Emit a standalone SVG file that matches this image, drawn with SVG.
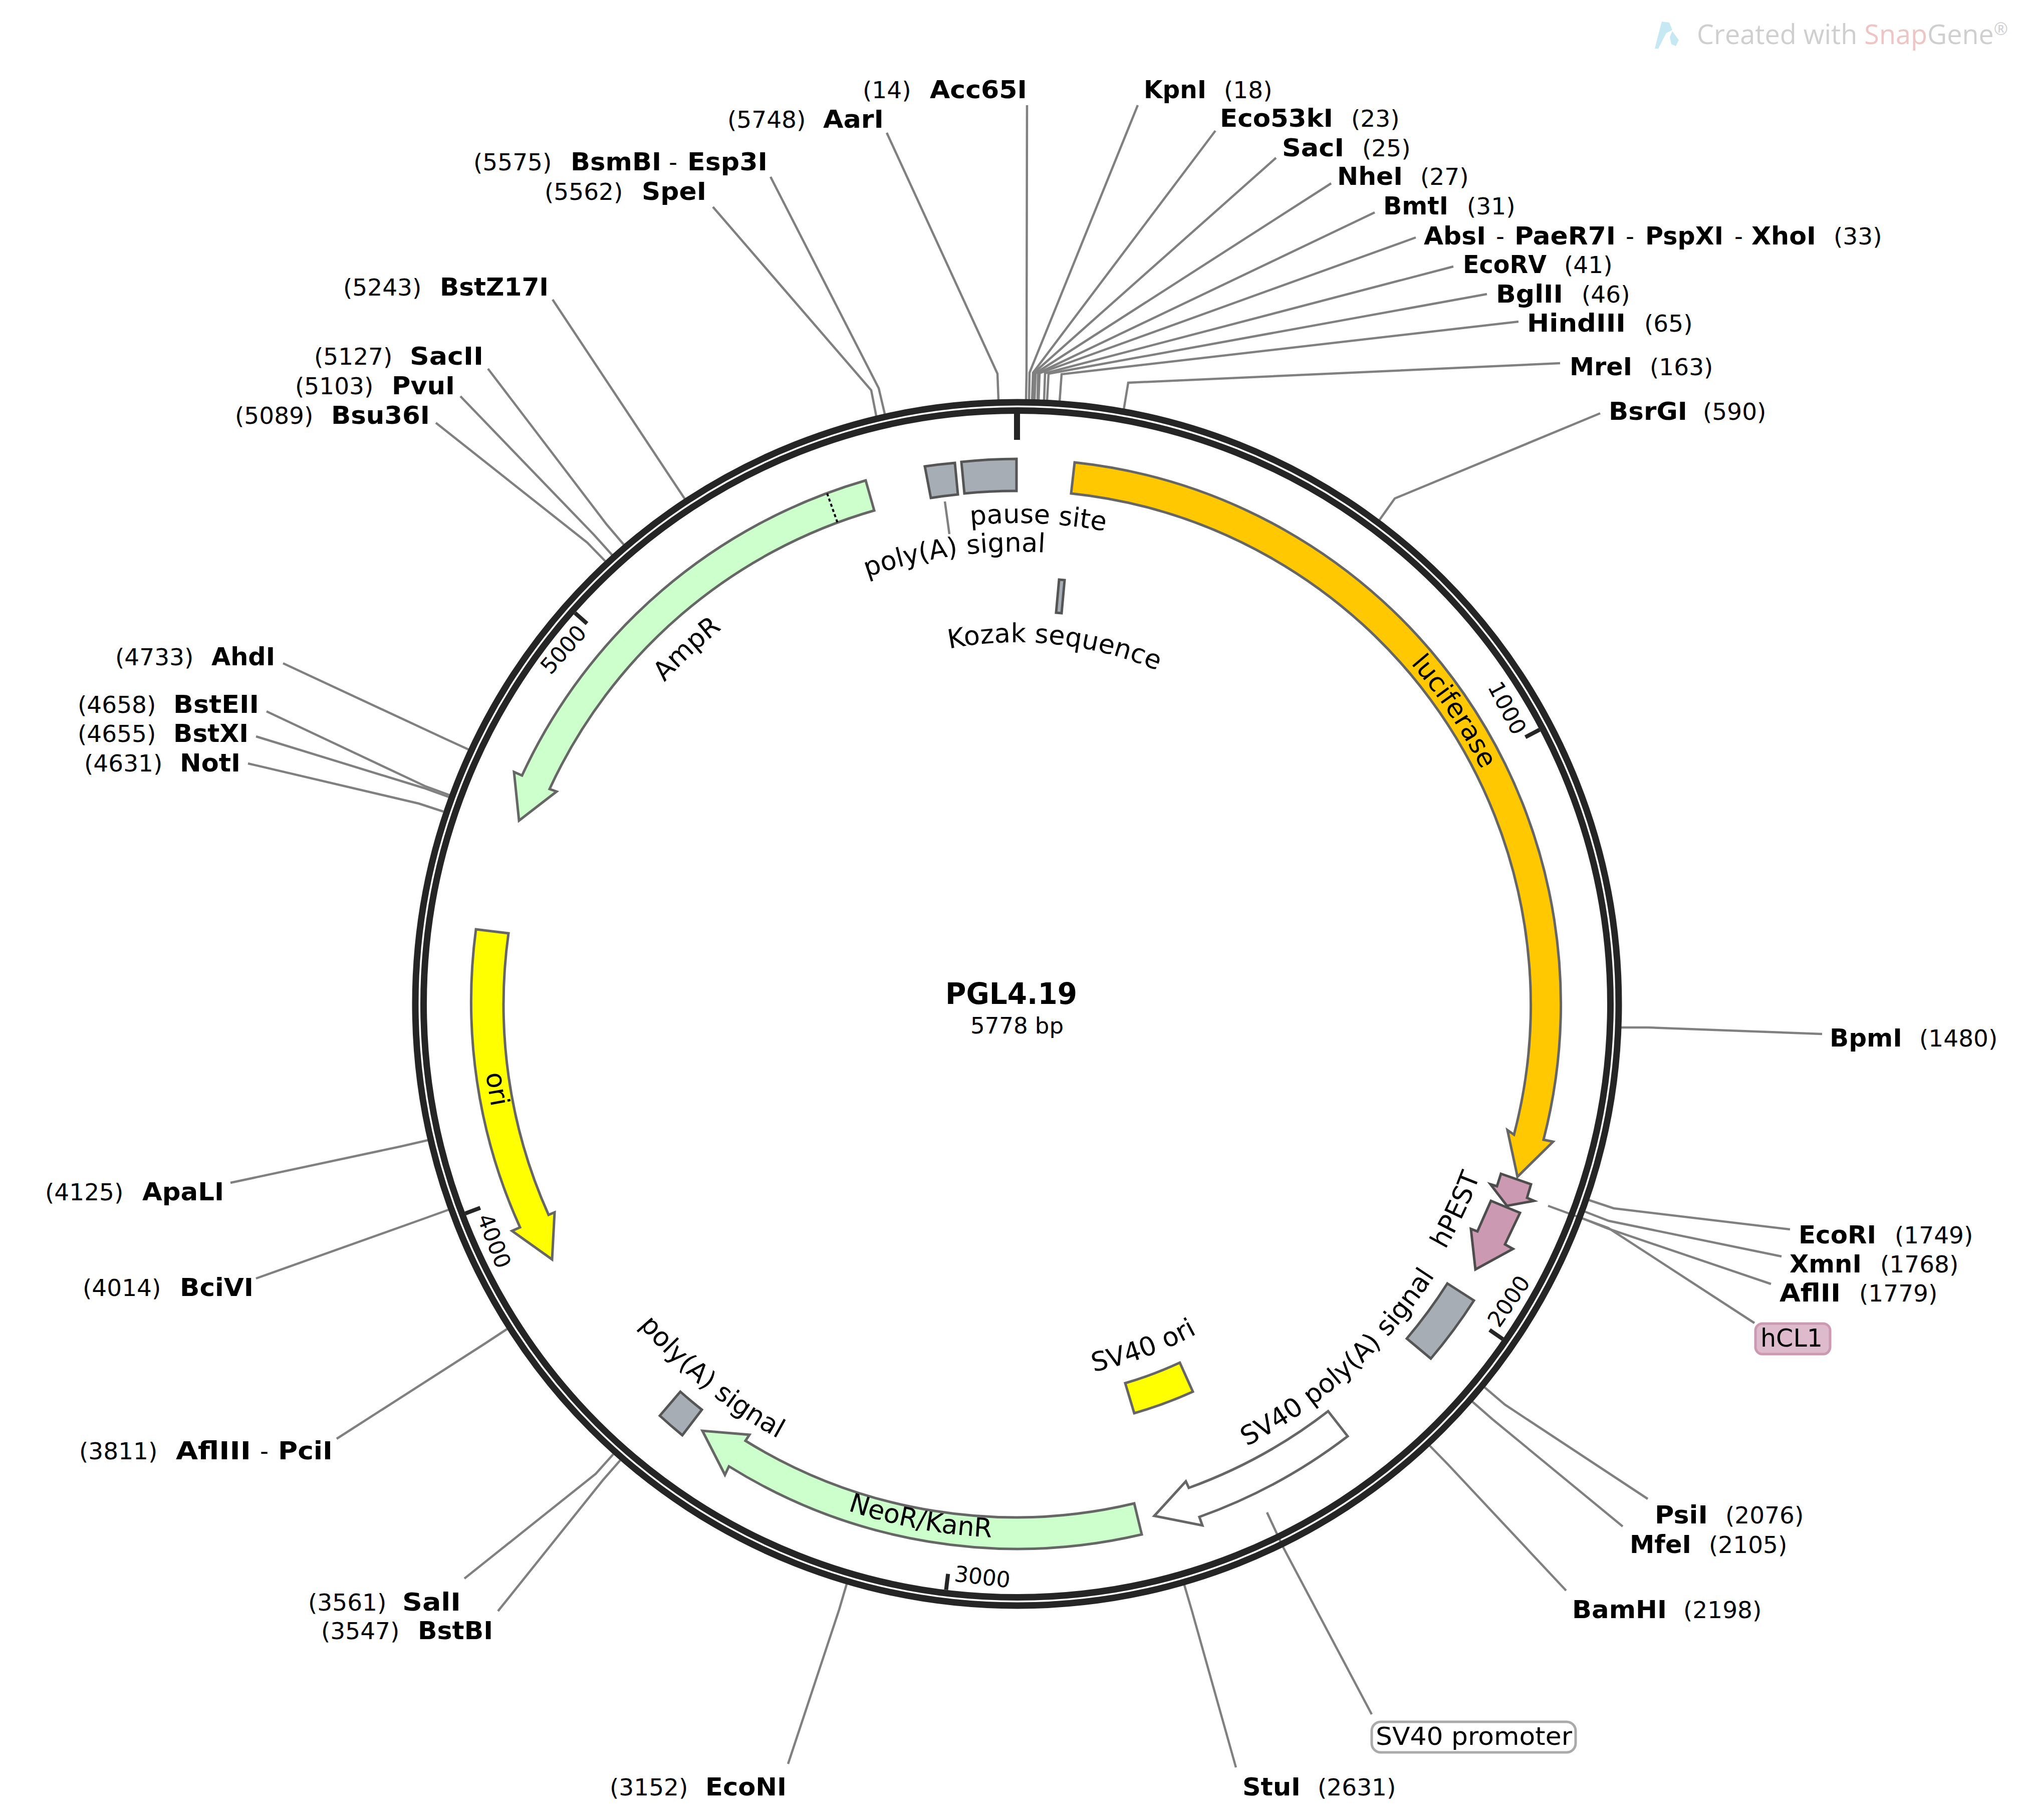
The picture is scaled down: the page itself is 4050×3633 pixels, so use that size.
<svg xmlns="http://www.w3.org/2000/svg" width="4050" height="3633" viewBox="0 0 4050 3633">
<style>
text{font-family:"DejaVu Sans","Liberation Sans",sans-serif;fill:#000}
.n{font-size:50px;font-weight:700}
.p{font-size:47px}
.f{font-size:52.5px;text-anchor:middle}
.k{font-size:44px;text-anchor:middle}
.c{fill:none;stroke:#808080;stroke-width:4.5}
.r{fill:none;stroke:#252525;stroke-width:13}
.t{stroke:#252525;stroke-width:8}
.a{stroke:#666;stroke-width:5;stroke-linejoin:miter}
.g{fill:#a6adb5;stroke:#555;stroke-width:5}
.m{fill:#cc99b2;stroke:#4d4d4d;stroke-width:5}
</style>
<defs>
<path id="t1039" d="M991 2004A1039 1039 0 0 1 3069 2004"/>
<path id="t960" d="M1070 2004A960 960 0 0 1 2990 2004"/>
<path id="t953" d="M1077 2004A953 953 0 0 1 2983 2004"/>
<path id="t903" d="M1127 2004A903 903 0 0 1 2933 2004"/>
<path id="t722" d="M1308 2004A722 722 0 0 1 2752 2004"/>
<path id="b986" d="M1044 2004A986 986 0 0 0 3016 2004"/>
<path id="b995" d="M1035 2004A995 995 0 0 0 3025 2004"/>
<path id="b990" d="M1040 2004A990 990 0 0 0 3020 2004"/>
<path id="b750" d="M1280 2004A750 750 0 0 0 2780 2004"/>
<path id="b1066" d="M964 2004A1066 1066 0 0 0 3096 2004"/>
<path id="b1069" d="M961 2004A1069 1069 0 0 0 3099 2004"/>
</defs>
<rect width="4050" height="3633" fill="#fff"/>

<g id="watermark">
<path d="M3303 97L3317 43L3332 45L3338 60L3326 66L3310 97Z" fill="#c5e8f3"/>
<path d="M3338 62L3351 80L3345 92L3336 88L3333 74Z" fill="#c5e8f3"/>
<text x="3387" y="88" font-size="54" style="font-family:'Open Sans',sans-serif;fill:#cfcfcf" textLength="621" lengthAdjust="spacingAndGlyphs">Created with <tspan style="fill:#eec4c4">Snap</tspan>Gene<tspan font-size="34" dy="-18">®</tspan></text>
</g>

<g id="connectors">
<polyline class="c" points="2050,210 2049,744 2048,800"/>
<polyline class="c" points="2271,210 2055,744 2054,800"/>
<polyline class="c" points="2426,261 2062,744 2060,800"/>
<polyline class="c" points="2547,315 2064,744 2063,800"/>
<polyline class="c" points="2657,366 2067,745 2065,800"/>
<polyline class="c" points="2744,424 2072,745 2071,800"/>
<polyline class="c" points="2826,474 2075,745 2073,800"/>
<polyline class="c" points="2901,532 2086,745 2084,800"/>
<polyline class="c" points="2968,587 2093,746 2090,800"/>
<polyline class="c" points="3031,642 2119,747 2115,802"/>
<polyline class="c" points="3114,725 2252,764 2243,818"/>
<polyline class="c" points="3194,825 2784,995 2752,1040"/>
<polyline class="c" points="3637,2064 3290,2051 3234,2051"/>
<polyline class="c" points="3573,2454 3221,2412 3170,2395"/>
<polyline class="c" points="3556,2508 3211,2437 3162,2418"/>
<polyline class="c" points="3535,2563 3208,2452 3156,2431"/>
<polyline class="c" points="3502,2641 3210,2451 3090,2407"/>
<polyline class="c" points="3289,2992 3004,2804 2963,2769"/>
<polyline class="c" points="3239,3047 2979,2833 2939,2798"/>
<polyline class="c" points="3126,3175 2891,2924 2853,2885"/>
<polyline class="c" points="2738,3422 2561,3088 2529,3019"/>
<polyline class="c" points="2467,3528 2379,3215 2364,3164"/>
<polyline class="c" points="1573,3521 1675,3213 1690,3162"/>
<polyline class="c" points="994,3216 1203,2955 1238,2915"/>
<polyline class="c" points="927,3151 1189,2942 1224,2903"/>
<polyline class="c" points="672,2872 968,2682 1012,2653"/>
<polyline class="c" points="511,2552 845,2433 895,2415"/>
<polyline class="c" points="460,2361 802,2288 854,2276"/>
<polyline class="c" points="495,1524 836,1604 885,1620"/>
<polyline class="c" points="511,1470 846,1573 896,1591"/>
<polyline class="c" points="532,1420 848,1569 897,1587"/>
<polyline class="c" points="565,1324 887,1474 935,1496"/>
<polyline class="c" points="870,844 1172,1083 1208,1120"/>
<polyline class="c" points="919,791 1186,1068 1222,1108"/>
<polyline class="c" points="974,736 1211,1047 1245,1087"/>
<polyline class="c" points="1103,598 1337,951 1367,996"/>
<polyline class="c" points="1423,413 1739,779 1749,830"/>
<polyline class="c" points="1538,353 1754,775 1766,826"/>
<polyline class="c" points="1770,265 1991,746 1993,799"/>
<polyline class="c" points="1886,1001 1895,1066"/>
</g>

<g id="ruler">
<circle class="r" cx="2030" cy="2004" r="1201"/>
<circle class="r" cx="2030" cy="2004" r="1184.5"/>
<line x1="2030" y1="826" x2="2030" y2="878" stroke="#252525" stroke-width="12"/>
<g id="tick-1000"><line class="t" x1="2030" y1="826" x2="2030" y2="858" transform="rotate(62.31 2030 2004)"/><text class="k" transform="translate(3009 1413) rotate(62.3)" y="16">1000</text></g>
<g id="tick-2000"><line class="t" x1="2030" y1="826" x2="2030" y2="858" transform="rotate(124.6 2030 2004)"/><text class="k" transform="translate(3011 2597) rotate(-55.4)" y="16">2000</text></g>
<g id="tick-3000"><line class="t" x1="2030" y1="826" x2="2030" y2="858" transform="rotate(186.9 2030 2004)"/><text class="k" transform="translate(1961 3147) rotate(6.9)" y="16">3000</text></g>
<g id="tick-4000"><line class="t" x1="2030" y1="826" x2="2030" y2="858" transform="rotate(249.2 2030 2004)"/><text class="k" transform="translate(987 2477) rotate(69.2)" y="16">4000</text></g>
<g id="tick-5000"><line class="t" x1="2030" y1="826" x2="2030" y2="858" transform="rotate(311.5 2030 2004)"/><text class="k" transform="translate(1124 1296) rotate(-48.5)" y="16">5000</text></g>
</g>

<g id="title">
<text x="1887" y="2004" font-size="58" font-weight="700" textLength="263" lengthAdjust="spacingAndGlyphs">PGL4.19</text>
<text x="1937" y="2063" font-size="45" textLength="186" lengthAdjust="spacingAndGlyphs">5778 bp</text>
</g>

<g id="feature-luciferase">
<path class="a" fill="#ffc800" d="M2145 923A1087 1087 0 0 1 3081 2275L3100 2279L3029 2349L3009 2256L3022 2265A1026 1026 0 0 0 2138 985Z"/>
<text class="f" transform="rotate(56.2 2030 2004)"><textPath href="#t1039" startOffset="50%">luciferase</textPath></text>
</g>
<g id="feature-hPEST">
<path class="m" d="M2996 2343L3056 2364L3048 2391L3062 2397L3008 2407L2975 2364L2988 2368Z"/>
<path class="m" d="M2976 2397L3034 2421L3004 2484L3020 2493L2945 2534L2936 2453L2949 2458Z"/>
<text class="f" transform="rotate(-64.9 2030 2004)"><textPath href="#b986" startOffset="50%">hPEST</textPath></text>
</g>
<g id="feature-sv40-polya">
<path class="g" d="M2889 2562L2942 2596A1087 1087 0 0 1 2856 2712L2808 2672A1025 1025 0 0 0 2889 2562Z"/>
<text class="f" transform="rotate(-42.2 2030 2004)"><textPath href="#b995" startOffset="50%">SV40 poly(A) signal</textPath></text>
</g>
<g id="feature-sv40-promoter">
<path class="a" fill="#fff" d="M2651 2817A1025 1025 0 0 1 2373 2970L2367 2957L2304 3026L2400 3045L2394 3028A1087 1087 0 0 0 2690 2867Z"/>
<rect x="2738" y="3437" width="407" height="61" rx="18" fill="#fff" stroke="#aaa" stroke-width="5"/>
<text x="2746" y="3483" font-size="50" textLength="392" lengthAdjust="spacingAndGlyphs">SV40 promoter</text>
</g>
<g id="feature-sv40-ori">
<path class="a" fill="#ff0" d="M2246 2761A787 787 0 0 0 2355 2720L2381 2778A850 850 0 0 1 2264 2821Z"/>
<text class="f" transform="rotate(-20.2 2030 2004)"><textPath href="#b750" startOffset="50%">SV40 ori</textPath></text>
</g>
<g id="feature-neor">
<path class="a" fill="#cfc" d="M2264 3001A1025 1025 0 0 1 1488 2876L1496 2864L1402 2856L1447 2944L1455 2927A1088 1088 0 0 0 2279 3063Z"/>
<text class="f" transform="rotate(10.6 2030 2004)"><textPath href="#b1066" startOffset="50%">NeoR/KanR</textPath></text>
</g>
<g id="feature-polya-lower">
<path class="g" d="M1358 2778A1025 1025 0 0 0 1401 2814L1362 2865A1088 1088 0 0 1 1317 2826Z"/>
<text class="f" transform="rotate(39.2 2030 2004)"><textPath href="#b990" startOffset="50%">poly(A) signal</textPath></text>
</g>
<g id="feature-ori">
<path class="a" fill="#ff0" d="M950 1855A1090 1090 0 0 0 1038 2450L1022 2457L1102 2514L1107 2420L1095 2425A1025 1025 0 0 1 1015 1863Z"/>
<text class="f" transform="rotate(80.7 2030 2004)"><textPath href="#b1069" startOffset="50%">ori</textPath></text>
</g>
<g id="feature-AmpR">
<path class="a" fill="#cfc" d="M1728 959A1088 1088 0 0 0 1042 1548L1026 1541L1036 1638L1111 1580L1097 1575A1026 1026 0 0 1 1745 1019Z"/>
<line x1="1651" y1="985" x2="1672" y2="1044" stroke="#000" stroke-width="4" stroke-dasharray="6 5"/>
<text class="f" transform="rotate(-42.9 2030 2004)"><textPath href="#t953" startOffset="50%">AmpR</textPath></text>
</g>
<g id="feature-polya-upper">
<path class="g" d="M1846 931A1088 1088 0 0 1 1906 924L1912 987A1025 1025 0 0 0 1858 994Z"/>
<text class="f" transform="rotate(-13.4 2030 2004)"><textPath href="#t903" startOffset="50%">poly(A)</textPath></text>
<text class="f" transform="rotate(-1.4 2030 2004)"><textPath href="#t903" startOffset="50%">signal</textPath></text>
</g>
<g id="feature-pause-site">
<path class="g" d="M1919 922A1088 1088 0 0 1 2029 916L2029 980A1024 1024 0 0 0 1925 985Z"/>
<text class="f" transform="rotate(2.5 2030 2004)"><textPath href="#t960" startOffset="50%">pause site</textPath></text>
</g>
<g id="feature-kozak">
<path class="g" d="M2114 1157L2125 1158L2119 1224L2108 1223Z"/>
<text class="f" transform="rotate(6 2030 2004)"><textPath href="#t722" startOffset="50%">Kozak sequence</textPath></text>
</g>
<g id="feature-hCL1">
<rect x="3504" y="2642" width="149" height="61" rx="14" fill="#ddbbcc" stroke="#cc99b2" stroke-width="5"/>
<text x="3514" y="2688" font-size="50" textLength="124" lengthAdjust="spacingAndGlyphs">hCL1</text>
</g>

<g id="site-Acc65I"><text class="p" x="1722" y="196">(14)</text><text class="n" x="1856" y="196" textLength="194" lengthAdjust="spacingAndGlyphs">Acc65I</text></g>
<g id="site-KpnI"><text class="n" x="2283" y="196" textLength="125" lengthAdjust="spacingAndGlyphs">KpnI</text><text class="p" x="2443" y="196">(18)</text></g>
<g id="site-Eco53kI"><text class="n" x="2435" y="253" textLength="226" lengthAdjust="spacingAndGlyphs">Eco53kI</text><text class="p" x="2697" y="253">(23)</text></g>
<g id="site-SacI"><text class="n" x="2559" y="312" textLength="124" lengthAdjust="spacingAndGlyphs">SacI</text><text class="p" x="2719" y="312">(25)</text></g>
<g id="site-NheI"><text class="n" x="2669" y="369" textLength="131" lengthAdjust="spacingAndGlyphs">NheI</text><text class="p" x="2835" y="369">(27)</text></g>
<g id="site-BmtI"><text class="n" x="2761" y="428" textLength="130" lengthAdjust="spacingAndGlyphs">BmtI</text><text class="p" x="2928" y="428">(31)</text></g>
<g id="site-AbsI"><text class="n" x="2842" y="488" textLength="124" lengthAdjust="spacingAndGlyphs">AbsI</text><text class="p" x="2986" y="488">-</text><text class="n" x="3023" y="488" textLength="202" lengthAdjust="spacingAndGlyphs">PaeR7I</text><text class="p" x="3245" y="488">-</text><text class="n" x="3284" y="488" textLength="156" lengthAdjust="spacingAndGlyphs">PspXI</text><text class="p" x="3462" y="488">-</text><text class="n" x="3496" y="488" textLength="129" lengthAdjust="spacingAndGlyphs">XhoI</text><text class="p" x="3660" y="488">(33)</text></g>
<g id="site-EcoRV"><text class="n" x="2920" y="545" textLength="167" lengthAdjust="spacingAndGlyphs">EcoRV</text><text class="p" x="3122" y="545">(41)</text></g>
<g id="site-BglII"><text class="n" x="2986" y="604" textLength="134" lengthAdjust="spacingAndGlyphs">BglII</text><text class="p" x="3157" y="604">(46)</text></g>
<g id="site-HindIII"><text class="n" x="3048" y="662" textLength="197" lengthAdjust="spacingAndGlyphs">HindIII</text><text class="p" x="3282" y="662">(65)</text></g>
<g id="site-MreI"><text class="n" x="3133" y="749" textLength="125" lengthAdjust="spacingAndGlyphs">MreI</text><text class="p" x="3293" y="749">(163)</text></g>
<g id="site-BsrGI"><text class="n" x="3211" y="838" textLength="157" lengthAdjust="spacingAndGlyphs">BsrGI</text><text class="p" x="3399" y="838">(590)</text></g>
<g id="site-BpmI"><text class="n" x="3652" y="2089" textLength="145" lengthAdjust="spacingAndGlyphs">BpmI</text><text class="p" x="3831" y="2089">(1480)</text></g>
<g id="site-EcoRI"><text class="n" x="3590" y="2482" textLength="155" lengthAdjust="spacingAndGlyphs">EcoRI</text><text class="p" x="3782" y="2482">(1749)</text></g>
<g id="site-XmnI"><text class="n" x="3572" y="2540" textLength="144" lengthAdjust="spacingAndGlyphs">XmnI</text><text class="p" x="3753" y="2540">(1768)</text></g>
<g id="site-AflII"><text class="n" x="3552" y="2598" textLength="122" lengthAdjust="spacingAndGlyphs">AflII</text><text class="p" x="3711" y="2598">(1779)</text></g>
<g id="site-PsiI"><text class="n" x="3303" y="3041" textLength="106" lengthAdjust="spacingAndGlyphs">PsiI</text><text class="p" x="3444" y="3041">(2076)</text></g>
<g id="site-MfeI"><text class="n" x="3253" y="3100" textLength="123" lengthAdjust="spacingAndGlyphs">MfeI</text><text class="p" x="3411" y="3100">(2105)</text></g>
<g id="site-BamHI"><text class="n" x="3138" y="3230" textLength="189" lengthAdjust="spacingAndGlyphs">BamHI</text><text class="p" x="3360" y="3230">(2198)</text></g>
<g id="site-StuI"><text class="n" x="2480" y="3584" textLength="116" lengthAdjust="spacingAndGlyphs">StuI</text><text class="p" x="2630" y="3584">(2631)</text></g>
<g id="site-EcoNI"><text class="p" x="1217" y="3584">(3152)</text><text class="n" x="1408" y="3584" textLength="162" lengthAdjust="spacingAndGlyphs">EcoNI</text></g>
<g id="site-BstBI"><text class="p" x="641" y="3272">(3547)</text><text class="n" x="834" y="3272" textLength="150" lengthAdjust="spacingAndGlyphs">BstBI</text></g>
<g id="site-SalI"><text class="p" x="615" y="3215">(3561)</text><text class="n" x="803" y="3215" textLength="117" lengthAdjust="spacingAndGlyphs">SalI</text></g>
<g id="site-AflIII"><text class="p" x="158" y="2913">(3811)</text><text class="n" x="351" y="2913" textLength="150" lengthAdjust="spacingAndGlyphs">AflIII</text><text class="p" x="519" y="2913">-</text><text class="n" x="555" y="2913" textLength="109" lengthAdjust="spacingAndGlyphs">PciI</text></g>
<g id="site-BciVI"><text class="p" x="165" y="2587">(4014)</text><text class="n" x="359" y="2587" textLength="147" lengthAdjust="spacingAndGlyphs">BciVI</text></g>
<g id="site-ApaLI"><text class="p" x="90" y="2396">(4125)</text><text class="n" x="284" y="2396" textLength="163" lengthAdjust="spacingAndGlyphs">ApaLI</text></g>
<g id="site-NotI"><text class="p" x="168" y="1540">(4631)</text><text class="n" x="359" y="1540" textLength="121" lengthAdjust="spacingAndGlyphs">NotI</text></g>
<g id="site-BstXI"><text class="p" x="155" y="1481">(4655)</text><text class="n" x="346" y="1481" textLength="150" lengthAdjust="spacingAndGlyphs">BstXI</text></g>
<g id="site-BstEII"><text class="p" x="155" y="1423">(4658)</text><text class="n" x="346" y="1423" textLength="171" lengthAdjust="spacingAndGlyphs">BstEII</text></g>
<g id="site-AhdI"><text class="p" x="230" y="1328">(4733)</text><text class="n" x="422" y="1328" textLength="127" lengthAdjust="spacingAndGlyphs">AhdI</text></g>
<g id="site-Bsu36I"><text class="p" x="469" y="846">(5089)</text><text class="n" x="661" y="846" textLength="197" lengthAdjust="spacingAndGlyphs">Bsu36I</text></g>
<g id="site-PvuI"><text class="p" x="589" y="787">(5103)</text><text class="n" x="782" y="787" textLength="126" lengthAdjust="spacingAndGlyphs">PvuI</text></g>
<g id="site-SacII"><text class="p" x="627" y="728">(5127)</text><text class="n" x="818" y="728" textLength="147" lengthAdjust="spacingAndGlyphs">SacII</text></g>
<g id="site-BstZ17I"><text class="p" x="685" y="590">(5243)</text><text class="n" x="878" y="590" textLength="217" lengthAdjust="spacingAndGlyphs">BstZ17I</text></g>
<g id="site-SpeI"><text class="p" x="1087" y="399">(5562)</text><text class="n" x="1281" y="399" textLength="129" lengthAdjust="spacingAndGlyphs">SpeI</text></g>
<g id="site-BsmBI"><text class="p" x="945" y="340">(5575)</text><text class="n" x="1139" y="340" textLength="181" lengthAdjust="spacingAndGlyphs">BsmBI</text><text class="p" x="1335" y="340">-</text><text class="n" x="1372" y="340" textLength="160" lengthAdjust="spacingAndGlyphs">Esp3I</text></g>
<g id="site-AarI"><text class="p" x="1452" y="255">(5748)</text><text class="n" x="1643" y="255" textLength="121" lengthAdjust="spacingAndGlyphs">AarI</text></g>
</svg>
